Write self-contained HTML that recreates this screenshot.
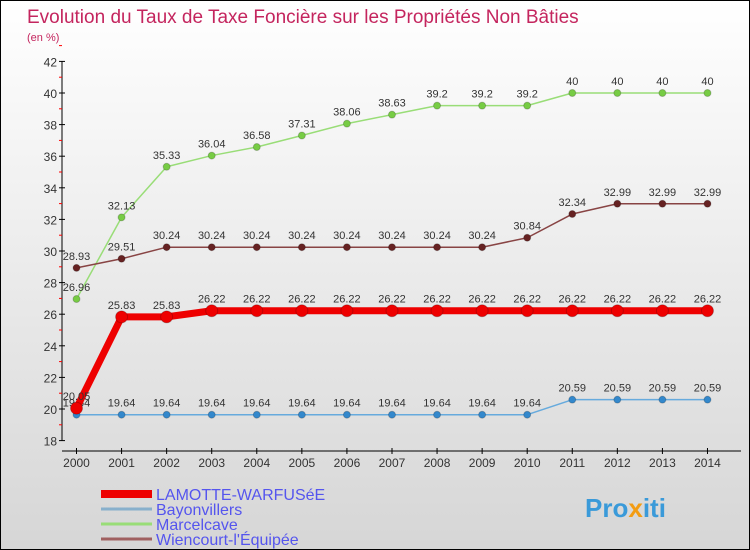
<!DOCTYPE html>
<html><head><meta charset="utf-8"><style>
body{margin:0}
#c{width:750px;height:550px;position:relative;box-sizing:border-box;border:1px solid #000;background:linear-gradient(#ffffff,#d6d6d6);font-family:"Liberation Sans",sans-serif;overflow:hidden}
</style></head><body>
<div id="c">
<svg id="s" width="750" height="550" style="position:absolute;left:0;top:0">
<text x="26" y="22" font-size="19" fill="#c4255e">Evolution du Taux de Taxe Foncière sur les Propriétés Non Bâties</text>
<text x="26" y="40" font-size="11" fill="#c4255e">(en %)</text>
<g id="ax"></g><g id="series"></g><g id="leg"></g>
<text x="584" y="516" font-size="26" font-weight="bold" fill="#3a9ad9">Pro<tspan fill="#f39c12">x</tspan>iti</text>
</svg>
</div>
<script>
const years=[2000,2001,2002,2003,2004,2005,2006,2007,2008,2009,2010,2011,2012,2013,2014];
const yTicks=[18,20,22,24,26,28,30,32,34,36,38,40,42];
const names=["LAMOTTE-WARFUSéE","Bayonvillers","Marcelcave","Wiencourt-l'Équipée"];
const lamotte=[20.05,25.83,25.83,26.22,26.22,26.22,26.22,26.22,26.22,26.22,26.22,26.22,26.22,26.22,26.22];
const bayon=[19.64,19.64,19.64,19.64,19.64,19.64,19.64,19.64,19.64,19.64,19.64,20.59,20.59,20.59,20.59];
const marcel=[26.96,32.13,35.33,36.04,36.58,37.31,38.06,38.63,39.2,39.2,39.2,40,40,40,40];
const wien=[28.93,29.51,30.24,30.24,30.24,30.24,30.24,30.24,30.24,30.24,30.84,32.34,32.99,32.99,32.99];
const NS="http://www.w3.org/2000/svg";
const X=i=>75.5+i*45.07, Y=v=>408-(v-20)*15.8;
function mk(p,t,a){const e=document.createElementNS(NS,t);for(const k in a)e.setAttribute(k,a[k]);p.appendChild(e);return e;}
const ax=document.getElementById('ax');
mk(ax,'line',{x1:61,y1:Y(42),x2:61,y2:Y(18),stroke:'#000'});
mk(ax,'line',{x1:61,y1:450,x2:740,y2:450,stroke:'#000'});
yTicks.forEach(v=>{mk(ax,'line',{x1:58,x2:64,y1:Y(v),y2:Y(v),stroke:'#000'});
 mk(ax,'line',{x1:58,x2:61,y1:Y(v+1),y2:Y(v+1),stroke:'#f00'});
 const t=mk(ax,'text',{x:56,y:Y(v)+5,'text-anchor':'end','font-size':12,fill:'#333'});t.textContent=v;
 
 });
years.forEach((y,i)=>{mk(ax,'line',{x1:X(i),x2:X(i),y1:447,y2:453,stroke:'#000'});
 const t=mk(ax,'text',{x:X(i),y:466,'text-anchor':'middle','font-size':12,fill:'#333'});t.textContent=y;
 
 });
const S=document.getElementById('series');
function draw(vals,col,w,r,dot,name){
 const g=mk(S,'g',{});
 
 
 mk(g,'polyline',{points:vals.map((v,i)=>X(i)+','+Y(v)).join(' '),fill:'none',stroke:col,'stroke-width':w,'stroke-linejoin':'round'});
 vals.forEach((v,i)=>{const c=mk(g,'circle',{cx:X(i),cy:Y(v),r:r,fill:dot,stroke:'#0003'});
  
  
  const t=mk(g,'text',{x:X(i),y:Y(v)-8,'text-anchor':'middle','font-size':11,fill:'#333'});t.textContent=v;
  
  });
}
draw(marcel,'#99dd77',1.5,3.5,'#77cc44','series-marcelcave');
draw(wien,'#884444',1.5,3.5,'#662222','series-wiencourt');
draw(bayon,'#66aadd',1.5,3.5,'#3388cc','series-bayonvillers');
draw(lamotte,'#ee0000',7,6,'#ee0000','series-lamotte');
const L=document.getElementById('leg');
const lc=['#ee0000','#88b0cc','#99dd77','#a06060'],lw=[8,3,3,3];
names.forEach((n,i)=>{const y=493+i*15;
 const l=mk(L,'line',{x1:100,x2:151,y1:y,y2:y,stroke:lc[i],'stroke-width':lw[i]});
 
 
 const t=mk(L,'text',{x:155,y:y+6,'font-size':16,fill:'#5555ee'});t.textContent=n;
 
 });
</script>
</body></html>
